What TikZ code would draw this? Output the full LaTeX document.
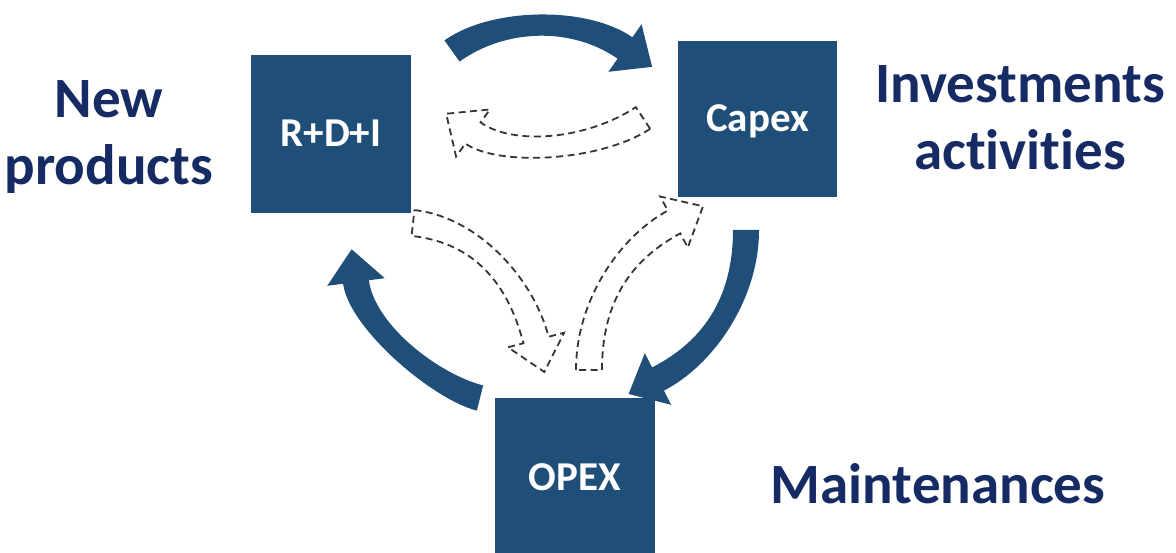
\documentclass[tikz,border=0pt]{standalone}
\usepackage{fontspec}
\setmainfont{Carlito}[Ligatures=CommonOff]
\usetikzlibrary{calc}
\definecolor{boxblue}{RGB}{31,78,121}
\definecolor{txtblue}{RGB}{22,43,99}
\definecolor{dashgray}{RGB}{50,52,62}
\newcommand\bw{13pt}
\newcommand\hw{29pt}
\newcommand\hl{33pt}
% #1 style, #2 start, #3 control 1, #4 control 2, #5 head base
\newcommand\blockarrow[5]{%
 \path[#1] ($(#2)!\bw!90:(#3)$) .. controls ($(#3)!\bw!-90:(#2)$) and ($(#4)!\bw!90:(#5)$) .. ($(#5)!\bw!-90:(#4)$)
 -- ($(#5)!\hw!-90:(#4)$) -- ($(#5)!\hl!180:(#4)$) -- ($(#5)!\hw!90:(#4)$) -- ($(#5)!\bw!90:(#4)$)
 .. controls ($(#4)!\bw!-90:(#5)$) and ($(#3)!\bw!90:(#2)$) .. ($(#2)!\bw!-90:(#3)$) -- cycle;}
\begin{document}
\begin{tikzpicture}[x=1pt,y=-1pt,
  boxst/.style={fill=boxblue, minimum width=160pt, minimum height=158pt, inner sep=0pt,
    text=white, font=\bfseries\fontsize{41}{41}\selectfont, text height=26pt, text depth=0pt},
  lbl/.style={text=txtblue, font=\bfseries\fontsize{57}{67}\selectfont, align=center, inner sep=0pt},
  solidarrow/.style={fill=boxblue},
  dasharrow/.style={draw=dashgray, line width=1.8pt, dash pattern=on 7pt off 4.5pt, line join=miter}
]
\fill[white] (0,0) rectangle (1176,553);
\useasboundingbox (0,0) rectangle (1176,553);

% control points of the arrows
\coordinate (t0) at (452,51);  \coordinate (t1) at (498,18);  \coordinate (t2) at (579,16);  \coordinate (t3) at (625,48);
\coordinate (r0) at (746,230); \coordinate (r1) at (746,300); \coordinate (r2) at (707,354); \coordinate (r3) at (658,379);
\coordinate (l0) at (480,398); \coordinate (l1) at (436,387); \coordinate (l2) at (362,327); \coordinate (l3) at (356,282);
\coordinate (d0) at (643,118); \coordinate (d1) at (593,151); \coordinate (d2) at (505,156); \coordinate (d3) at (473,133);
\coordinate (e0) at (413,223); \coordinate (e1) at (477,230); \coordinate (e2) at (521,282); \coordinate (e3) at (536,340);
\coordinate (f0) at (589,370); \coordinate (f1) at (589,300); \coordinate (f2) at (626,248); \coordinate (f3) at (674,222);

\blockarrow{solidarrow}{t0}{t1}{t2}{t3}
\blockarrow{solidarrow}{r0}{r1}{r2}{r3}
\blockarrow{solidarrow}{l0}{l1}{l2}{l3}
\blockarrow{dasharrow}{d0}{d1}{d2}{d3}
\blockarrow{dasharrow}{e0}{e1}{e2}{e3}
\blockarrow{dasharrow}{f0}{f1}{f2}{f3}

\node[boxst] (rdi) at (331,134) {R+D+I};
\node[boxst, minimum width=159pt, minimum height=156pt] (capex) at (757.5,119) {Capex};
\node[boxst] (opex) at (575,477) {OPEX};

\node[lbl, anchor=base] (np) at (109,185) {New\\products};
\node[lbl, anchor=base] (ia) at (1020,170) {Investments\\activities};
\node[lbl, anchor=base] (mt) at (938,503) {Maintenances};
\end{tikzpicture}
\end{document}
